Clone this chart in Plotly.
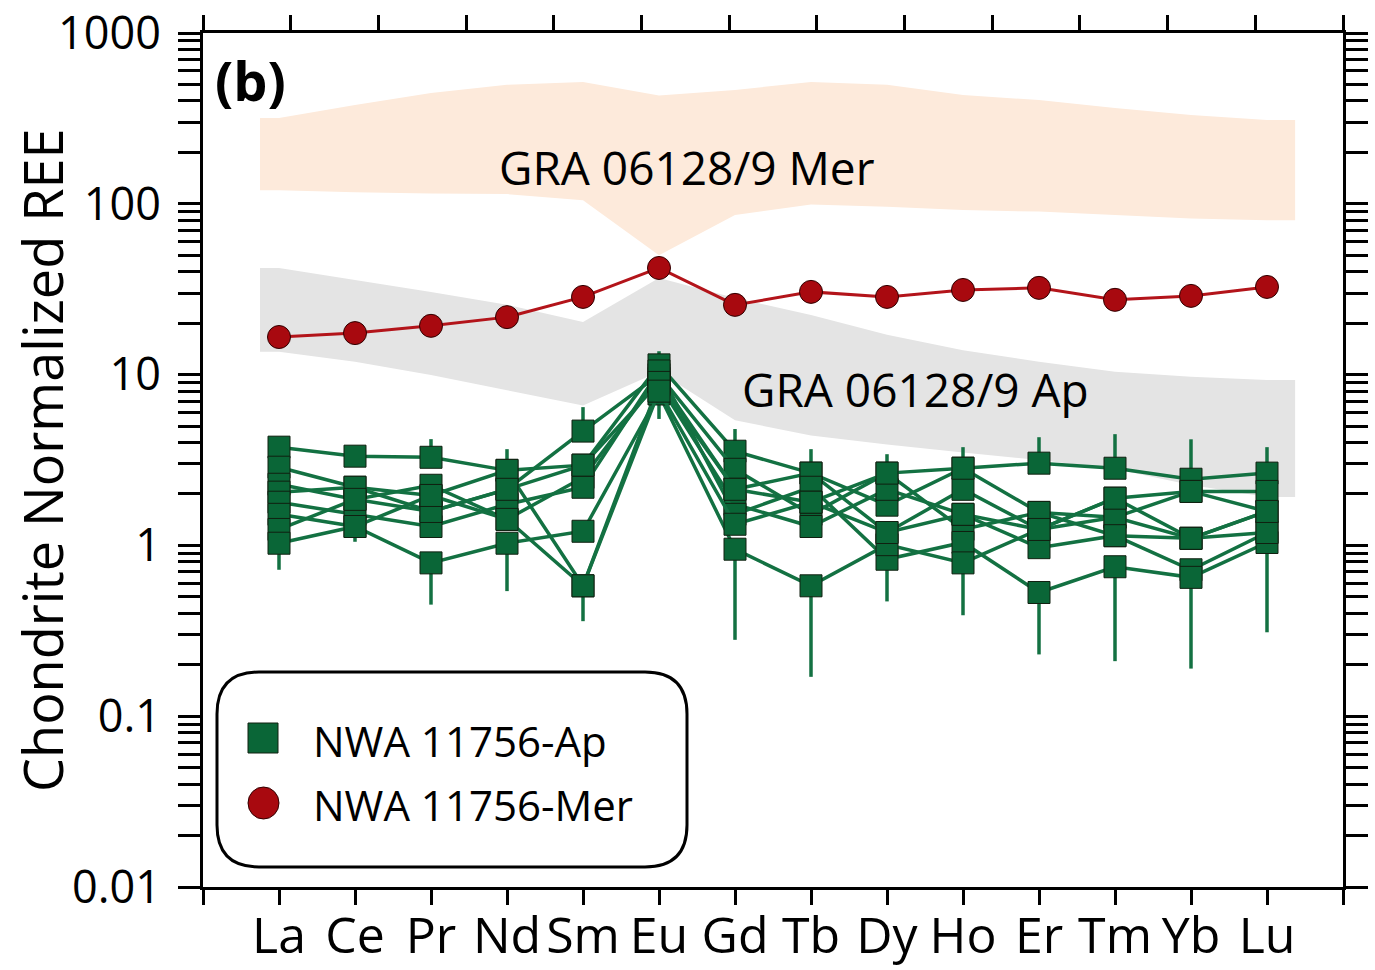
import plotly.graph_objects as go

# ---------------- data ----------------
elements = ["La", "Ce", "Pr", "Nd", "Sm", "Eu", "Gd", "Tb", "Dy", "Ho", "Er", "Tm", "Yb", "Lu"]

# NWA 11756 merrillite (chondrite normalized)
mer_values = [16.6, 17.5, 19.3, 21.7, 28.5, 42.1, 25.6, 30.5, 28.5, 31.3, 32.2, 27.4, 28.9, 32.6]

# NWA 11756 apatite analyses (chondrite normalized)
ap_1 = [3.76, 3.33, 3.28, 2.75, 2.95, 11.4, 3.56, 2.65, 1.72, 2.83, 3.03, 2.83, 2.44, 2.65]
ap_2 = [2.87, 2.19, 1.58, 2.13, 4.67, 10.0, 2.79, 1.52, 2.65, 1.24, 1.56, 1.46, 2.07, 2.07]
ap_3 = [2.28, 1.86, 2.25, 1.42, 2.50, 9.5, 2.13, 2.65, 1.19, 2.13, 1.24, 1.89, 1.10, 1.58]
ap_4 = [2.05, 2.19, 1.96, 2.75, 0.58, 8.8, 1.74, 1.29, 2.13, 1.52, 0.97, 1.14, 0.72, 1.19]
ap_5 = [1.79, 1.52, 1.29, 1.74, 2.19, 10.5, 1.52, 2.19, 0.83, 1.04, 0.53, 0.75, 0.65, 1.04]
ap_6 = [1.52, 1.29, 0.79, 1.03, 1.21, 7.7, 0.95, 0.58, 1.01, 0.79, 1.24, 1.46, 1.10, 1.58]
ap_7 = [1.24, 1.86, 1.58, 2.13, 2.95, 9.0, 2.13, 1.79, 2.65, 2.83, 1.56, 1.14, 1.10, 1.19]
ap_8 = [1.03, 1.29, 1.96, 1.42, 0.58, 8.0, 1.33, 1.79, 1.19, 1.52, 1.24, 1.89, 2.07, 1.58]
ap_series = [ap_1, ap_2, ap_3, ap_4, ap_5, ap_6, ap_7, ap_8]

# extent of the apatite error bars per element
ap_bar_top = [4.2, 3.6, 4.19, 3.66, 6.45, 13.7, 4.8, 3.66, 3.42, 3.76, 4.3, 4.48, 4.18, 3.76]
ap_bar_bottom = [0.72, 1.05, 0.45, 0.54, 0.36, 5.5, 0.28, 0.17, 0.47, 0.39, 0.23, 0.21, 0.19, 0.31]

# GRA 06128/9 fields
mer_band_upper = [318, 379, 445, 497, 517, 430, 464, 517, 497, 434, 405, 364, 331, 310]
mer_band_lower = [120, 117, 115, 114, 105, 50, 86, 99, 96, 92, 90, 86, 82, 80]
ap_band_upper = [42.1, 35.8, 30.5, 25.6, 20.3, 36.8, 28.1, 22.3, 17.1, 13.9, 11.9, 10.4, 9.7, 9.3]
ap_band_lower = [13.6, 11.9, 9.95, 8.1, 6.6, 10.4, 5.4, 4.4, 3.9, 3.5, 3.16, 2.8, 2.26, 1.92]

# ---------------- style ----------------
FONT = "Open Sans"
GREEN = "#0a6637"
GREEN_LINE = "#137142"
RED = "#a8090f"
RED_LINE = "#b3141a"
ORANGE_FILL = "#fdeadb"
GRAY_FILL = "#e4e4e4"
BAND_PAD_L, BAND_PAD_R = 0.25, 0.37

x_idx = list(range(len(elements)))

fig = go.Figure()


def band(upper, lower, color):
    xs = [x_idx[0] - BAND_PAD_L] + x_idx + [x_idx[-1] + BAND_PAD_R]
    up = [upper[0]] + list(upper) + [upper[-1]]
    lo = [lower[0]] + list(lower) + [lower[-1]]
    fig.add_trace(go.Scatter(
        x=xs + xs[::-1], y=up + lo[::-1], fill="toself", fillcolor=color,
        mode="none", showlegend=False, hoverinfo="skip"))


band(mer_band_upper, mer_band_lower, ORANGE_FILL)
band(ap_band_upper, ap_band_lower, GRAY_FILL)

# error bars: upper whisker on highest analysis, lower whisker on lowest
n = len(elements)
plus = [[0.0] * n for _ in ap_series]
minus = [[0.0] * n for _ in ap_series]
for j in range(n):
    col = [s[j] for s in ap_series]
    imax = col.index(max(col))
    imin = col.index(min(col))
    plus[imax][j] = max(ap_bar_top[j] - col[imax], 0)
    minus[imin][j] = max(col[imin] - ap_bar_bottom[j], 0)

for k, s in enumerate(ap_series):
    fig.add_trace(go.Scatter(
        x=x_idx, y=s, mode="lines+markers", name="NWA 11756-Ap",
        line=dict(color=GREEN_LINE, width=3.5),
        marker=dict(symbol="square", size=22, color=GREEN,
                    line=dict(color="#102010", width=1)),
        error_y=dict(type="data", symmetric=False, array=plus[k], arrayminus=minus[k],
                     color=GREEN_LINE, thickness=3.5, width=0),
        showlegend=False))

fig.add_trace(go.Scatter(
    x=x_idx, y=mer_values, mode="lines+markers", name="NWA 11756-Mer",
    line=dict(color=RED_LINE, width=3),
    marker=dict(symbol="circle", size=23, color=RED, line=dict(color="#300000", width=1)),
    showlegend=False))

# empty traces to anchor the top axis and the category-label axis
fig.add_trace(go.Scatter(x=[None], y=[None], xaxis="x2", showlegend=False, hoverinfo="skip"))
fig.add_trace(go.Scatter(x=[None], y=[None], xaxis="x3", showlegend=False, hoverinfo="skip"))

# ---------------- layout ----------------
L, R, T, B = 203, 32, 33, 83
W, H = 1375, 970
PW, PH = W - L - R, H - T - B


def px(xp):
    return (xp - L) / PW


def py(yp):
    return (H - B - yp) / PH


axis_common = dict(showgrid=False, zeroline=False, showline=True, linewidth=3,
                   linecolor="black", ticks="outside", tickcolor="black", tickwidth=3,
                   automargin=False)

fig.update_layout(
    width=W, height=H,
    margin=dict(l=L, r=R, t=T, b=B, pad=0, autoexpand=False),
    paper_bgcolor="white", plot_bgcolor="white",
    font=dict(family=FONT, color="black"),
    showlegend=False,
    # bottom axis: line and ticks
    xaxis=dict(range=[-1, 14], tickmode="array", tickvals=list(range(-1, 15)),
               ticklen=15, showticklabels=False, **axis_common),
    # top axis: line and ticks only
    xaxis2=dict(overlaying="x", side="top", range=[0, 13], tick0=0, dtick=1,
                ticklen=15, showticklabels=False, **axis_common),
    # category labels placed under the bottom axis
    xaxis3=dict(overlaying="x", side="bottom", range=[-1, 14], tickmode="array",
                tickvals=x_idx, ticktext=elements, ticks="", showline=False,
                showgrid=False, zeroline=False, automargin=False, ticklabelstandoff=15,
                tickfont=dict(size=50, family=FONT, color="black")),
    yaxis=dict(type="log", range=[-2, 3], dtick=1, exponentformat="none",
               ticklen=22, mirror="allticks", ticklabelstandoff=8,
               tickfont=dict(size=45, family=FONT, color="black"),
               minor=dict(ticks="outside", ticklen=12, tickwidth=3, tickcolor="black",
                          dtick="D1", showgrid=False),
               **axis_common),
)

ann = [
    dict(text="Chondrite Normalized REE", xref="paper", yref="paper",
         x=px(42), y=0.5, textangle=-90, showarrow=False,
         font=dict(size=54, family=FONT, color="black"), xanchor="center", yanchor="middle"),
    dict(text="<b>(b)</b>", xref="paper", yref="paper", x=px(250), y=py(80),
         showarrow=False, font=dict(size=54, family=FONT, color="black"),
         xanchor="center", yanchor="middle"),
    dict(text="GRA 06128/9 Mer", xref="paper", yref="paper", x=px(687), y=py(167),
         showarrow=False, font=dict(size=46, family=FONT, color="black"),
         xanchor="center", yanchor="middle"),
    dict(text="GRA 06128/9 Ap", xref="paper", yref="paper", x=px(916), y=py(389),
         showarrow=False, font=dict(size=46, family=FONT, color="black"),
         xanchor="center", yanchor="middle"),
    dict(text="NWA 11756-Ap", xref="paper", yref="paper", x=px(311), y=py(740),
         showarrow=False, font=dict(size=42, family=FONT, color="black"),
         xanchor="left", yanchor="middle"),
    dict(text="NWA 11756-Mer", xref="paper", yref="paper", x=px(311), y=py(804),
         showarrow=False, font=dict(size=42, family=FONT, color="black"),
         xanchor="left", yanchor="middle"),
]
fig.update_layout(annotations=ann)

# legend frame (rounded) and legend symbols
x0, x1, y0, y1, rad = 217, 687, 672, 867, 42


def P(a, b):
    return f"{px(a):.5f},{py(b):.5f}"


path = (f"M {P(x0 + rad, y0)} L {P(x1 - rad, y0)} Q {P(x1, y0)} {P(x1, y0 + rad)} "
        f"L {P(x1, y1 - rad)} Q {P(x1, y1)} {P(x1 - rad, y1)} "
        f"L {P(x0 + rad, y1)} Q {P(x0, y1)} {P(x0, y1 - rad)} "
        f"L {P(x0, y0 + rad)} Q {P(x0, y0)} {P(x0 + rad, y0)} Z")
shapes = [
    dict(type="path", xref="paper", yref="paper", path=path,
         line=dict(color="black", width=3), fillcolor="rgba(0,0,0,0)"),
    dict(type="rect", xref="paper", yref="paper", x0=px(248), x1=px(278), y0=py(753), y1=py(723),
         fillcolor=GREEN, line=dict(color="#102010", width=1)),
    dict(type="circle", xref="paper", yref="paper", x0=px(248), x1=px(279), y0=py(819), y1=py(787),
         fillcolor=RED, line=dict(color="#300000", width=1)),
]
fig.update_layout(shapes=shapes)

fig.write_html("out.html")
